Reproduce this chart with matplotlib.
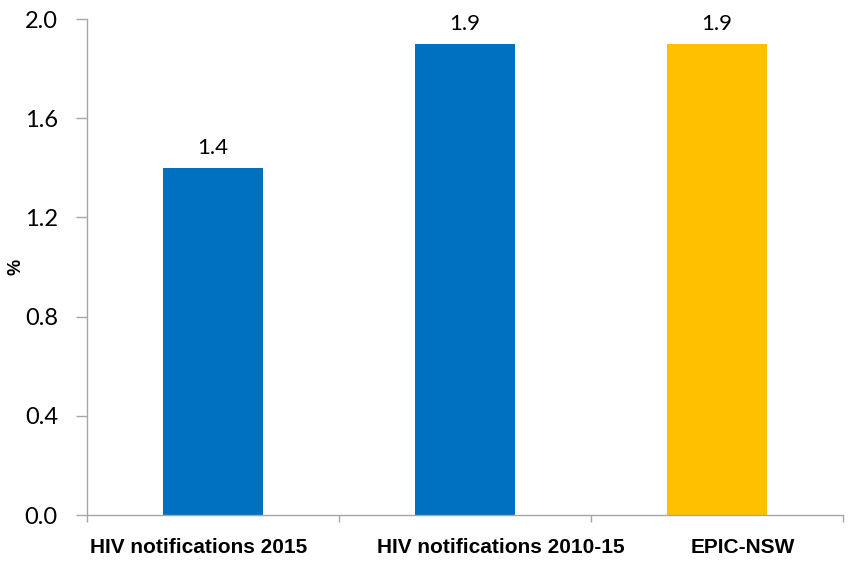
import matplotlib
matplotlib.use("Agg")
import matplotlib.pyplot as plt
from matplotlib.ticker import FixedLocator

categories = ["HIV notifications 2015", "HIV notifications 2010-15", "EPIC-NSW"]
values = [1.4, 1.9, 1.9]
bar_colors = ["#0070C0", "#0070C0", "#FFC000"]
y_ticks = [0.0, 0.4, 0.8, 1.2, 1.6, 2.0]
# the category labels are not exactly centred under the bars in the original
label_shift = [-0.058, 0.141, 0.101]

fig = plt.figure(figsize=(8.48, 5.63), dpi=100)
ax = fig.add_axes([87 / 848, 1 - 515 / 563, (843 - 87) / 848, (515 - 19) / 563])

pos = list(range(len(categories)))
ax.bar(pos, values, width=0.4, color=bar_colors, zorder=2)

for x, v in zip(pos, values):
    ax.text(x, v + 0.04, f"{v:.1f}", ha="center", va="bottom",
            fontsize=16, family="Lato")

ax.set_xlim(-0.5, len(categories) - 0.5)
ax.set_ylim(0, 2.0)
ax.set_yticks(y_ticks)
ax.set_yticklabels([f"{t:.1f}" for t in y_ticks], fontsize=17, family="Lato")

# category labels, tick marks between categories
ax.set_xticks([])
for x, name, dx in zip(pos, categories, label_shift):
    ax.text(x + dx, -0.066, name, ha="center", va="center", fontsize=15,
            fontweight="bold", family="Liberation Sans",
            transform=ax.get_xaxis_transform())
ax.xaxis.set_minor_locator(FixedLocator([-0.5, 0.5, 1.5, 2.5]))
ax.tick_params(axis="x", which="minor", length=5, color="#A6A6A6", width=1)
ax.tick_params(axis="y", length=8, color="#A6A6A6", width=1, pad=13)

for s in ["top", "right"]:
    ax.spines[s].set_visible(False)
for s in ["left", "bottom"]:
    ax.spines[s].set_color("#A6A6A6")
    ax.spines[s].set_linewidth(1)

ax.set_ylabel("%", fontsize=13, fontweight="bold", family="Liberation Sans")
ax.yaxis.set_label_coords(-0.083, 0.5)

fig.savefig("out.png", dpi=100)
